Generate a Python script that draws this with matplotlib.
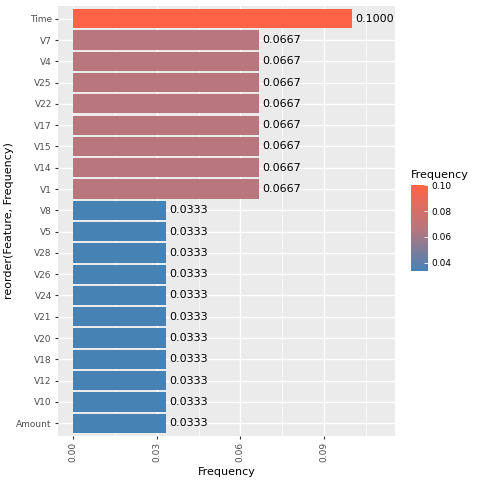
import matplotlib.pyplot as plt
import matplotlib as mpl
from matplotlib.colors import LinearSegmentedColormap, Normalize
import numpy as np

# Données (de haut en bas)
features = ['Time', 'V7', 'V4', 'V25', 'V22', 'V17', 'V15', 'V14', 'V1',
            'V8', 'V5', 'V28', 'V26', 'V24', 'V21', 'V20', 'V18', 'V12', 'V10', 'Amount']
frequency = [0.1000, 0.0667, 0.0667, 0.0667, 0.0667, 0.0667, 0.0667, 0.0667, 0.0667,
             0.0333, 0.0333, 0.0333, 0.0333, 0.0333, 0.0333, 0.0333, 0.0333, 0.0333, 0.0333, 0.0333]
legend_ticks = [0.04, 0.06, 0.08, 0.10]

# dégradé façon ggplot (interpolation Lab approchée par un point milieu)
cmap = LinearSegmentedColormap.from_list('gg', ['#4682B4', '#B9767D', '#FF6347'])
norm = Normalize(vmin=min(frequency), vmax=max(frequency))

fig = plt.figure(figsize=(4.8, 4.8), dpi=100)
ax = fig.add_axes([0.121, 0.0917, 0.702, 0.8958])
ax.set_facecolor('#EBEBEB')

n = len(features)
ypos = np.arange(n)[::-1]
ax.barh(ypos, frequency, height=0.9, color=cmap(norm(np.array(frequency))), zorder=3)
for y, v in zip(ypos, frequency):
    ax.text(v + 0.0013, y, f'{v:.4f}', va='center', ha='left', fontsize=8, color='black', zorder=4)

ax.set_xlim(-0.0054, 0.1155)
ax.set_ylim(-0.6, n - 0.4)
ax.set_yticks(ypos)
ax.set_yticklabels(features)
ax.set_xticks([0, 0.03, 0.06, 0.09])
ax.set_xticklabels(['0.00', '0.03', '0.06', '0.09'], rotation=90)
ax.set_xticks([0.015, 0.045, 0.075, 0.105], minor=True)
ax.grid(True, which='major', color='white', linewidth=1.0, zorder=1)
ax.grid(True, which='minor', axis='x', color='white', linewidth=0.5, zorder=1)
ax.tick_params(axis='both', which='major', labelsize=6.5, labelcolor='#4D4D4D',
               color='#333333', length=2.5, width=0.8, pad=2)
ax.tick_params(axis='both', which='minor', length=0)
for s in ax.spines.values():
    s.set_visible(False)
ax.set_axisbelow(True)
ax.set_xlabel('Frequency', fontsize=8, labelpad=3)
ax.set_ylabel('reorder(Feature, Frequency)', fontsize=8, labelpad=1.5)

# Légende (barre de couleur)
cax = fig.add_axes([0.856, 0.435, 0.035, 0.179])
cb = mpl.colorbar.ColorbarBase(cax, cmap=cmap, norm=norm, ticks=legend_ticks)
cb.outline.set_visible(False)
cb.ax.set_yticklabels([f'{t:.2f}' for t in legend_ticks])
cb.ax.tick_params(labelsize=6.5, color='white', length=3, width=0.6, pad=3, direction='in')
fig.text(0.856, 0.625, 'Frequency', fontsize=8, ha='left', va='bottom')

fig.savefig('out.png', dpi=100)
